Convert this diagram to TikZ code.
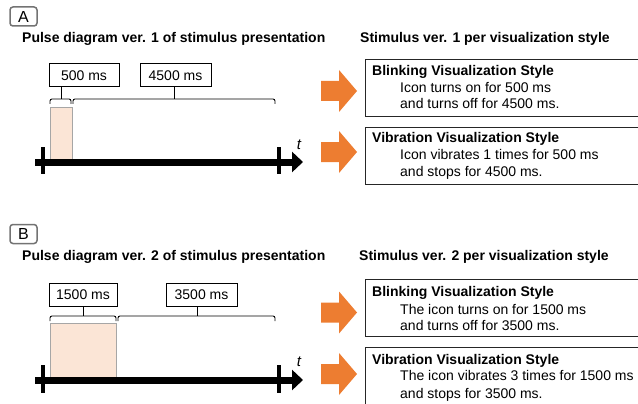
\documentclass[tikz,border=0pt]{standalone}
\usepackage{fontspec}
\setmainfont{Liberation Sans}
\usetikzlibrary{arrows.meta}
\definecolor{arrorange}{HTML}{ED7D31}
\definecolor{pulsefill}{HTML}{FBE5D6}
\definecolor{pulseline}{HTML}{A6A6A6}
\newcommand\bigarrowat[2]{\fill[arrorange] (#1,#2) ++(0,-10) -- ++(18,0) -- ++(0,-11) -- ++(18,21) -- ++(-18,21) -- ++(0,-11) -- ++(-18,0) -- cycle;}
\begin{document}
\begin{tikzpicture}[x=1pt,y=-1pt,
  font=\fontsize{14}{16}\selectfont,
  letterbox/.style={draw=black!55, rounded corners=3pt, line width=1.5pt, inner sep=0pt, minimum width=27pt, minimum height=19pt, font=\fontsize{16}{16}\selectfont},
  labbox/.style={draw, line width=1pt, minimum height=23pt, inner sep=0pt},
  infobox/.style={draw=black!85, line width=1.2pt, inner sep=0pt, anchor=north west, minimum width=290pt, minimum height=57pt},
  bracketline/.style={line width=0.9pt, rounded corners=2pt},
  axisline/.style={line width=7pt, -{Triangle[length=11pt,width=20pt]}},
  tickline/.style={line width=4.5pt},
  pulse/.style={draw=pulseline, fill=pulsefill, line width=0.8pt},
  title/.style={font=\bfseries\fontsize{14}{16}\selectfont, anchor=base west, inner sep=0pt},
  txt/.style={anchor=base west, inner sep=0pt},
  tlabel/.style={font=\itshape\fontsize{15}{15}\selectfont, inner sep=0pt}]
\useasboundingbox (0,0) rectangle (638,404);
\clip (0,0) rectangle (638,404);

% ---------------- Panel A ----------------
\node[letterbox] (la) at (23.5,16.5) {A};
\node[title] (ta) at (22,42.7) {Pulse diagram ver. 1 of stimulus presentation};
\node[title] (sa) at (360,42.7) {Stimulus ver. 1 per visualization style};

\node[labbox, minimum width=70pt] (a1) at (84,75.5) {500 ms};
\node[labbox, minimum width=71pt] (a2) at (175.5,75.5) {4500 ms};
\coordinate (a1b) at (61,99);
\coordinate (a2b) at (174,99);
\draw[line width=0.9pt] (a1.south -| a1b) -- (a1b);
\draw[line width=0.9pt] (a2.south -| a2b) -- (a2b);
\draw[bracketline] (50,104) -- (50,99) -- (71,99) -- (71,104);
\draw[bracketline] (73,104) -- (73,99) -- (275,99) -- (275,104);

\draw[pulse] (50,107) rectangle (72,159);
\coordinate (ax0) at (35,162);
\coordinate (ax1) at (303,162);
\draw[axisline] (ax0) -- (ax1);
\draw[tickline] (43,147) -- (43,174);
\draw[tickline] (279,147) -- (279,174);
\node[tlabel] (tA) at (299,145) {t};

\bigarrowat{321}{91}
\bigarrowat{321}{152}

\node[infobox] (ba) at (365,59) {};
\node[title] at (372,75.5) {Blinking Visualization Style};
\node[txt] at (400,92.7) {Icon turns on for 500 ms};
\node[txt] at (400,109) {and turns off for 4500 ms.};

\node[infobox] (va) at (365,127) {};
\node[title] at (372,142.7) {Vibration Visualization Style};
\node[txt] at (400,160) {Icon vibrates 1 times for 500 ms};
\node[txt] at (400,176.7) {and stops for 4500 ms.};

% ---------------- Panel B ----------------
\node[letterbox] (lb) at (23.5,234) {B};
\node[title] (tb) at (22,260.7) {Pulse diagram ver. 2 of stimulus presentation};
\node[title] (sb) at (359,260.3) {Stimulus ver. 2 per visualization style};

\node[labbox, minimum width=68pt] (b1) at (83,294.5) {1500 ms};
\node[labbox, minimum width=71pt] (b2) at (201.5,294.5) {3500 ms};
\coordinate (b1b) at (83,316);
\coordinate (b2b) at (197,316);
\draw[line width=0.9pt] (b1.south -| b1b) -- (b1b);
\draw[line width=0.9pt] (b2.south -| b2b) -- (b2b);
\draw[bracketline] (50,321) -- (50,316) -- (116,316) -- (116,321);
\draw[bracketline] (118,321) -- (118,316) -- (275,316) -- (275,321);

\draw[pulse] (50,323) rectangle (116,377);
\coordinate (bx0) at (35,380);
\coordinate (bx1) at (303,380);
\draw[axisline] (bx0) -- (bx1);
\draw[tickline] (43,365) -- (43,393);
\draw[tickline] (279,365) -- (279,393);
\node[tlabel] (tB) at (299,362) {t};

\bigarrowat{321}{312.5}
\bigarrowat{321}{374}

\node[infobox] (bb) at (365,279) {};
\node[title] at (372,296.7) {Blinking Visualization Style};
\node[txt] at (400,314) {The icon turns on for 1500 ms};
\node[txt] at (400,330.7) {and turns off for 3500 ms.};

\node[infobox] (vb) at (365,347) {};
\node[title] at (372,364) {Vibration Visualization Style};
\node[txt] at (400,380.7) {The icon vibrates 3 times for 1500 ms};
\node[txt] at (400,398) {and stops for 3500 ms.};
\end{tikzpicture}
\end{document}
